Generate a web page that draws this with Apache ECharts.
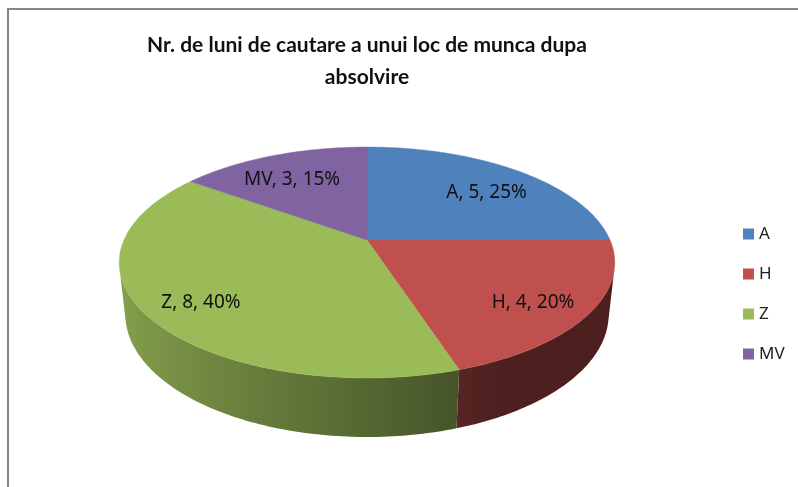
<!DOCTYPE html>
<html>
<head>
<meta charset="utf-8">
<title>Nr. de luni de cautare a unui loc de munca</title>
<script src="https://cdn.jsdelivr.net/npm/echarts@6/dist/echarts.min.js"></script>
<style>
    html, body { margin: 0; padding: 0; background: #fff; }
    #chart { width: 798px; height: 487px; }
</style>
</head>
<body>
<div id="chart"></div>
<script>
// ==================== date ====================

const categories = ['A', 'H', 'Z', 'MV'];
const values = [5, 4, 8, 3];
const colors = ['#4f81bd', '#c0504d', '#9bbb59', '#8064a2'];
const titleText = 'Nr. de luni de cautare a unui loc de munca dupa\nabsolvire';

const FONT = "'Noto Sans', 'Liberation Sans', sans-serif";

// ==================== proiectie 3D ====================

// placinta e un cilindru de raza 1 vazut in perspectiva
const VIEW = {
    cx: 367,
    cy: 240,
    focal: 1108,
    dist: 4.56,
    tilt: 27.2 * Math.PI / 180,
    height: 0.242,
    labelRadius: 0.77,
    labelShift: 7,
};
const sinT = Math.sin(VIEW.tilt);
const cosT = Math.cos(VIEW.tilt);

function project(x, y, z) {
    const depth = VIEW.dist - (y * sinT + z * cosT);
    const up = y * cosT - z * sinT;
    return [VIEW.cx + VIEW.focal * x / depth, VIEW.cy - VIEW.focal * up / depth];
}

// unghi masurat in sensul acelor de ceas, de la ora 12
function rim(angle, r, y) {
    return project(r * Math.sin(angle), y, -r * Math.cos(angle));
}

// peretele lateral se vede doar intre cele doua generatoare de contur
const silhouette = Math.acos(-1 / (VIEW.dist * cosT));
const wallFrom = silhouette;
const wallTo = Math.PI * 2 - silhouette;

const total = values.reduce((a, b) => a + b, 0);
const startAngles = [];
let acc = 0;
values.forEach(v => {
    startAngles.push(acc / total * Math.PI * 2);
    acc += v;
});

function sliceAngles(idx) {
    const a0 = startAngles[idx];
    return [a0, a0 + values[idx] / total * Math.PI * 2];
}

function shade(hex, k) {
    const n = parseInt(hex.slice(1), 16);
    const r = Math.round(((n >> 16) & 255) * k);
    const g = Math.round(((n >> 8) & 255) * k);
    const b = Math.round((n & 255) * k);
    return `rgb(${r},${g},${b})`;
}

// lumina vine din stanga: peretele din dreapta e aproape uniform inchis
function wallLight(angle) {
    const s = Math.sin(angle);
    return Math.max(0.40, 0.45 + (0.31 - s) / 1.31 * 0.42);
}

// ==================== randare ====================

function renderSide(params) {
    const idx = params.dataIndex;
    const [s0, s1] = sliceAngles(idx);
    const a0 = Math.max(s0, wallFrom);
    const a1 = Math.min(s1, wallTo);
    if (a1 <= a0) return null;

    const steps = Math.max(2, Math.ceil((a1 - a0) / (Math.PI / 180)));
    const angles = [];
    for (let i = 0; i <= steps; i++) {
        angles.push(a0 + (a1 - a0) * i / steps);
    }
    const top = angles.map(t => rim(t, 1, 0));
    const bottom = angles.map(t => rim(t, 1, -VIEW.height)).reverse();

    const samples = angles.map((t, i) => ({ x: top[i][0], color: shade(colors[idx], wallLight(t)) }))
        .sort((a, b) => a.x - b.x);
    const xMin = samples[0].x;
    const span = Math.max(1, samples[samples.length - 1].x - xMin);
    const stops = samples.map(s => ({ offset: (s.x - xMin) / span, color: s.color }));

    return {
        type: 'polygon',
        shape: { points: top.concat(bottom) },
        style: { fill: new echarts.graphic.LinearGradient(xMin, 0, xMin + span, 0, stops, true) },
    };
}

function renderTop(params) {
    const idx = params.dataIndex;
    const [a0, a1] = sliceAngles(idx);
    const steps = Math.max(2, Math.ceil((a1 - a0) / (Math.PI / 180)));
    const points = [project(0, 0, 0)];
    for (let i = 0; i <= steps; i++) {
        points.push(rim(a0 + (a1 - a0) * i / steps, 1, 0));
    }
    const mid = (a0 + a1) / 2;
    const pos = rim(mid, VIEW.labelRadius, 0);
    const pct = Math.round(values[idx] / total * 100);
    return {
        type: 'group',
        children: [
            {
                type: 'polygon',
                shape: { points },
                style: { fill: colors[idx], stroke: colors[idx], lineWidth: 0.5 },
            },
            {
                type: 'text',
                z2: 10,
                x: pos[0],
                y: pos[1] + VIEW.labelShift,
                style: {
                    text: `${categories[idx]}, ${values[idx]}, ${pct}%`,
                    fill: '#111',
                    fontSize: 19,
                    fontFamily: FONT,
                    align: 'center',
                    verticalAlign: 'middle',
                },
            },
        ],
    };
}

const chart = echarts.init(document.getElementById('chart'));

chart.setOption({
    backgroundColor: '#fff',
    animation: false,
    title: {
        text: titleText,
        left: 367,
        top: 29,
        padding: 0,
        textAlign: 'center',
        textStyle: {
            fontFamily: "Lato, 'Noto Sans', sans-serif",
            fontWeight: 'bold',
            fontSize: 21,
            lineHeight: 32,
            color: '#111',
        },
    },
    legend: {
        orient: 'vertical',
        left: 738,
        top: 220,
        itemWidth: 11,
        itemHeight: 11,
        itemGap: 22,
        icon: 'rect',
        selectedMode: false,
        data: categories,
        textStyle: { fontSize: 17, lineHeight: 18, fontFamily: FONT, color: '#222' },
    },
    graphic: [{
        type: 'rect',
        silent: true,
        shape: { x: 8, y: 9, width: 830, height: 520 },
        style: { fill: 'none', stroke: '#868686', lineWidth: 2 },
    }],
    series: [
        {
            // doar pentru culorile din legenda
            type: 'pie',
            radius: [0, 0],
            silent: true,
            label: { show: false },
            labelLine: { show: false },
            data: categories.map((c, i) => ({ name: c, value: values[i], itemStyle: { color: colors[i] } })),
        },
        {
            type: 'custom',
            name: 'laterale',
            coordinateSystem: 'none',
            silent: true,
            z: 2,
            data: values,
            renderItem: renderSide,
        },
        {
            type: 'custom',
            name: 'fete',
            coordinateSystem: 'none',
            silent: true,
            z: 3,
            data: values,
            renderItem: renderTop,
        },
    ],
});
</script>
</body>
</html>
